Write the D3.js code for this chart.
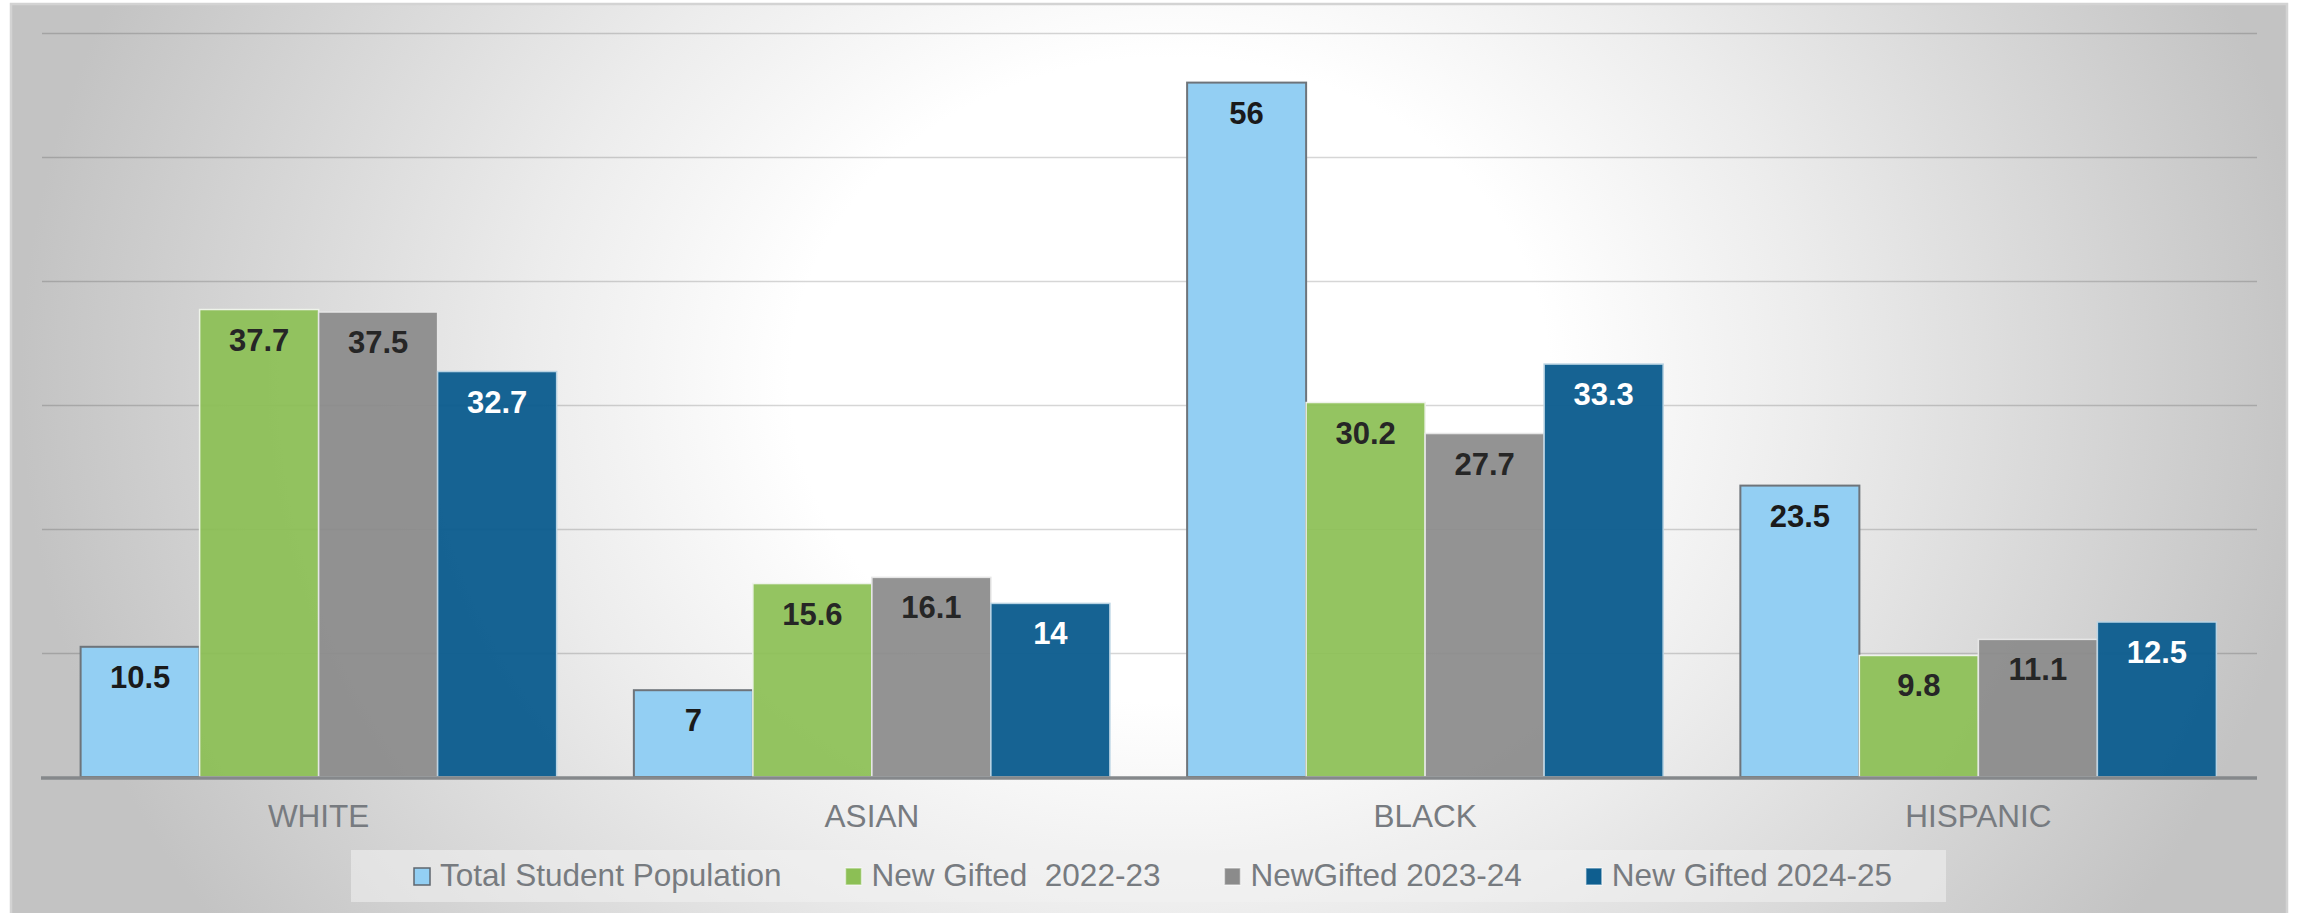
<!DOCTYPE html>
<html>
<head>
<meta charset="utf-8">
<script src="https://cdn.jsdelivr.net/npm/d3@7"></script>
<style>
  html, body { margin: 0; padding: 0; background: #ffffff; }
  svg { display: block; font-family: "Liberation Sans", Arial, sans-serif; }
  text { white-space: pre; }
</style>
</head>
<body>
<svg id="chart" width="2298" height="913"></svg>
<script>
// Share of students by race/ethnicity (%)
const categories = ["WHITE", "ASIAN", "BLACK", "HISPANIC"];
const seriesNames = ["Total Student Population", "New Gifted  2022-23", "NewGifted 2023-24", "New Gifted 2024-25"];
const totalPopulation = [10.5, 7, 56, 23.5];
const newGifted2223 = [37.7, 15.6, 30.2, 9.8];
const newGifted2324 = [37.5, 16.1, 27.7, 11.1];
const newGifted2425 = [32.7, 14, 33.3, 12.5];
const yTicks = [0, 10, 20, 30, 40, 50, 60];

const seriesValues = [totalPopulation, newGifted2223, newGifted2324, newGifted2425];
const seriesStyle = [
  { fill: "#93cff3", stroke: "#6e747a", strokeWidth: 2, opacity: 1, label: "#1a1a1a" },
  { fill: "#8cbf55", stroke: "#eef3ea", strokeWidth: 1.5, opacity: 0.93, label: "#262626" },
  { fill: "#8b8b8b", stroke: "#e6e6e6", strokeWidth: 1.5, opacity: 0.93, label: "#262626" },
  { fill: "#0e5e8f", stroke: "#b9d3e3", strokeWidth: 1.5, opacity: 0.97, label: "#ffffff" }
];

const W = 2298, H = 913;
const svg = d3.select("#chart");

// Chart area background: soft radial highlight, grey toward the corners
const defs = svg.append("defs");
const grad = defs.append("radialGradient")
  .attr("id", "bg")
  .attr("gradientUnits", "userSpaceOnUse")
  .attr("cx", 1170).attr("cy", 380).attr("r", 1150)
  .attr("gradientTransform", "translate(1170,380) scale(1,0.85) translate(-1170,-380)");
[[0, "#ffffff"], [0.33, "#ffffff"], [0.56, "#ececec"], [1, "#c3c3c3"]].forEach(([o, c]) => {
  grad.append("stop").attr("offset", o).attr("stop-color", c);
});

svg.append("rect")
  .attr("x", 11).attr("y", 4).attr("width", 2276).attr("height", 920)
  .attr("fill", "url(#bg)")
  .attr("stroke", "#d3d3d3").attr("stroke-width", 2.5);

const plot = { left: 42, right: 2255, top: 33, bottom: 777 };

const x0 = d3.scaleBand()
  .domain(categories)
  .range([plot.left, plot.right])
  .paddingInner(0.1396)
  .paddingOuter(0.0698);

const x1 = d3.scaleBand()
  .domain(d3.range(seriesNames.length))
  .range([0, x0.bandwidth()])
  .padding(0);

const y = d3.scaleLinear()
  .domain([0, 60])
  .range([plot.bottom, plot.top]);

// Horizontal gridlines
const yAxis = d3.axisLeft(y)
  .tickValues(yTicks.filter(t => t > 0))
  .tickSize(-(plot.right - plot.left + 2))
  .tickFormat("");
const gy = svg.append("g")
  .attr("transform", `translate(${plot.left},0)`)
  .call(yAxis);
gy.select(".domain").remove();
gy.selectAll(".tick line")
  .attr("stroke", "#000000")
  .attr("stroke-opacity", 0.16)
  .attr("stroke-width", 1.6);

// Bars
const groups = svg.append("g").selectAll("g")
  .data(categories)
  .join("g")
  .attr("transform", d => `translate(${x0(d)},0)`);

const barData = (c, ci) => seriesValues.map((vals, si) => ({ si, value: vals[ci] }));

groups.selectAll("rect")
  .data((c, ci) => barData(c, ci))
  .join("rect")
  .attr("x", d => x1(d.si))
  .attr("width", x1.bandwidth())
  .attr("y", d => y(d.value))
  .attr("height", d => y(0) - y(d.value))
  .attr("fill", d => seriesStyle[d.si].fill)
  .attr("fill-opacity", d => seriesStyle[d.si].opacity)
  .attr("stroke", d => seriesStyle[d.si].stroke)
  .attr("stroke-width", d => seriesStyle[d.si].strokeWidth);

// Value labels, inside the top of each bar
groups.selectAll("text.value")
  .data((c, ci) => barData(c, ci))
  .join("text")
  .attr("class", "value")
  .attr("x", d => x1(d.si) + x1.bandwidth() / 2)
  .attr("y", d => y(d.value) + 41)
  .attr("text-anchor", "middle")
  .attr("font-size", 31)
  .attr("font-weight", "bold")
  .attr("fill", d => seriesStyle[d.si].label)
  .text(d => d.value);

// Category axis
const xAxis = d3.axisBottom(x0).tickSize(0).tickPadding(0);
const gx = svg.append("g")
  .attr("transform", `translate(0,${plot.bottom})`)
  .call(xAxis);
gx.select(".domain").remove();
gx.selectAll(".tick text")
  .attr("y", 50)
  .attr("dy", 0)
  .attr("font-size", 31.5)
  .attr("font-family", "Liberation Sans, Arial, sans-serif")
  .attr("fill", "#777b80");

svg.append("line")
  .attr("x1", plot.left - 1).attr("x2", plot.right + 2)
  .attr("y1", plot.bottom + 1).attr("y2", plot.bottom + 1)
  .attr("stroke", "#85888b")
  .attr("stroke-width", 3.5);

// Legend
const legend = svg.append("g");
legend.append("rect")
  .attr("x", 351).attr("y", 850).attr("width", 1595).attr("height", 52)
  .attr("fill", "#f1f1f1").attr("fill-opacity", 0.57);

let lx = 414;
seriesNames.forEach((name, i) => {
  const st = seriesStyle[i];
  legend.append("rect")
    .attr("x", lx).attr("y", 868).attr("width", 16).attr("height", 17)
    .attr("fill", st.fill)
    .attr("stroke", i === 0 ? "#5f666d" : "#ffffff")
    .attr("stroke-opacity", i === 0 ? 1 : 0.5)
    .attr("stroke-width", 1.5);
  const t = legend.append("text")
    .attr("x", lx + 26).attr("y", 886)
    .attr("font-size", 31.5)
    .attr("fill", "#777b80")
    .text(name);
  lx += 26 + t.node().getComputedTextLength() + 64;
});
</script>
</body>
</html>
